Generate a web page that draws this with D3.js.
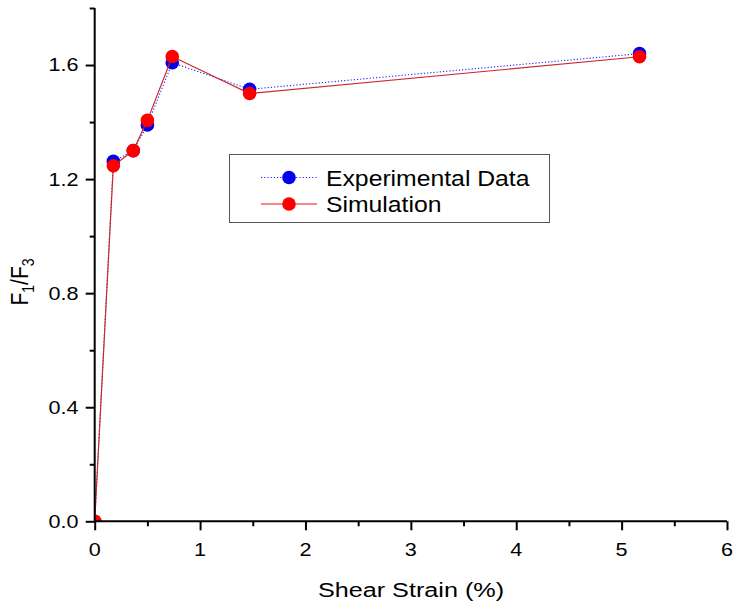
<!DOCTYPE html>
<html><head><meta charset="utf-8">
<script src="https://cdn.jsdelivr.net/npm/d3@7"></script>
<style>body{margin:0;background:#fff}text{font-family:"Liberation Sans",Arial,sans-serif;fill:#000}</style>
</head><body><svg id="c" width="733" height="603"></svg>
<script>
const strain = [0, 0.177, 0.366, 0.5, 0.736, 1.47, 5.17];
const experimental = [0, 1.262, 1.30, 1.39, 1.608, 1.515, 1.64];
const simulation = [0, 1.247, 1.30, 1.406, 1.63, 1.50, 1.629];
const xTicks = [0, 1, 2, 3, 4, 5, 6];
const yTicks = [0, 0.4, 0.8, 1.2, 1.6];
const seriesNames = ["Experimental Data", "Simulation"];

const svg = d3.select("#c");
const L = 94.7, R = 727, T = 8, B = 521.3;
const x = d3.scaleLinear().domain([0, 6]).range([L, R]);
const y = d3.scaleLinear().domain([0, 1.8]).range([B, T]);
const SX = 1.2;

svg.append("defs").append("clipPath").attr("id", "clip")
  .append("rect").attr("x", L).attr("y", T).attr("width", R - L).attr("height", B - T);

const g = svg.append("g").attr("clip-path", "url(#clip)");
const line = d3.line().x(d => x(d[0])).y(d => y(d[1]));
const ser = [
  {vals: experimental, color: "#0000ee", line: "#2020ff", dash: "1.2,2", w: 1.1},
  {vals: simulation, color: "#ff0000", line: "#cc2a2a", dash: null, w: 1.2}
];
ser.forEach(s => {
  const pts = strain.map((v, i) => [v, s.vals[i]]);
  g.append("path").attr("d", line(pts)).attr("fill", "none")
    .attr("stroke", s.line).attr("stroke-width", s.w)
    .attr("stroke-dasharray", s.dash);
  g.selectAll(null).data(pts).enter().append("circle")
    .attr("cx", d => x(d[0])).attr("cy", d => y(d[1])).attr("r", 6.8)
    .attr("fill", s.color);
});

// axes
const xAxis = d3.axisBottom(x).tickValues(d3.range(0, 6.01, 0.5)).tickSize(5).tickFormat("");
const gx = svg.append("g").attr("transform", `translate(0,${B})`).call(xAxis);
const yAxis = d3.axisLeft(y).tickValues(d3.range(0, 1.81, 0.2)).tickSize(5).tickFormat("");
const gy = svg.append("g").attr("transform", `translate(${L},0)`).call(yAxis);
[gx, gy].forEach(a => {
  a.select(".domain").attr("stroke", "#000").attr("stroke-width", 2);
  a.selectAll(".tick line").attr("stroke", "#000").attr("stroke-width", 2);
});
gx.select(".domain").attr("d", `M${L},0H${R}`);
gy.select(".domain").attr("d", `M0,${B}V${T}`);
gx.selectAll(".tick line").filter(d => Math.abs(d - Math.round(d)) < 1e-6).attr("y2", 9);
gy.selectAll(".tick line").filter(d => yTicks.some(t => Math.abs(t - d) < 1e-6)).attr("x2", -9);

function txt(str, tx, ty, size, anchor, sx) {
  return svg.append("text").attr("transform", `translate(${tx},${ty}) scale(${sx},1)`)
    .attr("text-anchor", anchor).attr("font-size", size).text(str);
}
xTicks.forEach(t => txt(String(t), x(t), 555.5, 18, "middle", SX));
yTicks.forEach(t => txt(t.toFixed(1), 78.5, y(t) + 6.4, 18, "end", SX));

txt("Shear Strain (%)", 411, 597, 21, "middle", SX);

const yt = svg.append("text").attr("transform", "translate(28,282) rotate(-90) scale(1,1.12)")
  .attr("text-anchor", "middle").attr("font-size", 21);
yt.append("tspan").text("F");
yt.append("tspan").attr("font-size", 14).attr("dy", 5).text("1");
yt.append("tspan").attr("dy", -5).text("/F");
yt.append("tspan").attr("font-size", 14).attr("dy", 5).text("3");

// legend
const lg = svg.append("g");
lg.append("rect").attr("x", 229.5).attr("y", 154.5).attr("width", 320).attr("height", 68)
  .attr("fill", "#fff").attr("stroke", "#555").attr("stroke-width", 1);
[177.5, 204].forEach((ly, i) => {
  const s = ser[i];
  lg.append("line").attr("x1", 261).attr("x2", 317).attr("y1", ly).attr("y2", ly)
    .attr("stroke", i === 0 ? "#2020ff" : "#ee1111").attr("stroke-width", 1)
    .attr("stroke-dasharray", s.dash);
  lg.append("circle").attr("cx", 289).attr("cy", ly).attr("r", 6.8).attr("fill", s.color);
  lg.append("text").attr("transform", `translate(326,${ly + 8}) scale(1.1,1)`)
    .attr("font-size", 22.5).text(seriesNames[i]);
});
</script></body></html>
